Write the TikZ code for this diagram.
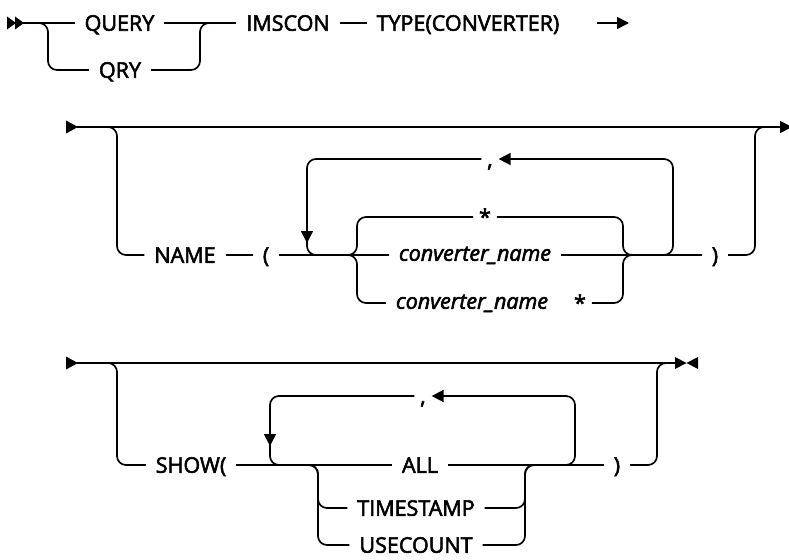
\documentclass[tikz,border=0pt]{standalone}
\usepackage{fontspec}
\setmainfont{Open Sans}[FakeBold=2.5]
\usetikzlibrary{arrows.meta}
\newcommand\lblfont{\fontsize{21.5}{25}\selectfont}
\begin{document}
\begin{tikzpicture}[x=1pt,y=-1pt,
  rail/.style={line width=1.7pt, rounded corners=9pt},
  lbl/.style={inner sep=0pt, outer xsep=10pt, outer ysep=0pt, text height=15.5pt, text depth=0pt, font=\lblfont},
  ilbl/.style={lbl, text height=11.5pt, font=\lblfont\itshape},
  pun/.style={lbl, outer xsep=6pt},
  tipR/.style={-{Triangle[length=12pt,width=12pt]}},
  tipD/.style={-{Triangle[length=12pt,width=12pt]}},
  railmark/.style={fill=black},
]
\useasboundingbox (0,0) rectangle (789,559);

% ---------- Row 1 ----------
\fill[railmark] (7,16.5) -- (16,23) -- (7,29.5) -- cycle;
\fill[railmark] (15,16.5) -- (24,23) -- (15,29.5) -- cycle;
\coordinate (s1) at (23,23);
\node[lbl] (Q1) at (119.5,23) {QUERY};
\node[lbl] (Q2) at (120,70) {QRY};
\node[lbl] (IMS) at (288,23) {IMSCON};
\node[lbl] (TYP) at (468,23) {TYPE(CONVERTER)};
\coordinate (a1) at (597,23);
\coordinate (a2) at (629,23);
\draw[rail] (s1) -- (Q1.west);
\draw[rail] (s1) -- (48,23) -- (48,70) -- (Q2.west);
\draw[rail] (Q1.east) -- (IMS.west);
\draw[rail] (Q2.east) -- (200,70) -- (200,23) -- (215,23);
\draw[rail] (IMS.east) -- (TYP.west);
\draw[line width=1.7pt, tipR] (a1) -- (a2);

% ---------- Row 2 ----------
\fill[railmark] (66,120.5) -- (78,127) -- (66,133.5) -- cycle;
\coordinate (s2) at (77,127);
\coordinate (e2) at (792,127);
\node[lbl] (NAME) at (185,255) {NAME};
\node[lbl] (LP) at (266,255) {(};
\node[pun] (c1) at (490,159) {,};
\node[pun] (st1) at (485,217) {*};
\node[ilbl] (cn1) at (475,255) {converter\_name};
\node[ilbl] (cn2) at (472,303) {converter\_name};
\node[pun] (st2) at (580,303) {*};
\node[lbl] (RP1) at (715,255) {)};
\draw[line width=1.7pt, tipR] (s2) -- (e2);
\draw[rail] (s2) -- (117,127) -- (117,255) -- (NAME.west);
\draw[rail] (NAME.east) -- (LP.west);
\draw[rail] (LP.east) -- (cn1.west);
\draw[rail, tipD] (c1.west) -- (307,159) -- (307,243);
\draw[rail] (307,232) -- (307,255) -- (330,255);
\draw[rail] (340,255) -- (357,255) -- (357,217) -- (st1.west);
\draw[rail] (340,255) -- (357,255) -- (357,303) -- (cn2.west);
\draw[rail] (st1.east) -- (623,217) -- (623,255) -- (640,255);
\draw[rail] (st2.east) -- (623,303) -- (623,255) -- (640,255);
\draw[rail] (cn1.east) -- (RP1.west);
\draw[rail, tipR] (650,255) -- (673,255) -- (673,159) -- (c1.east);
\draw[rail] (RP1.east) -- (755,255) -- (755,127) -- (770,127);

% ---------- Row 3 ----------
\fill[railmark] (66,356.5) -- (78,363) -- (66,369.5) -- cycle;
\coordinate (s3) at (77,363);
\coordinate (e3) at (676,363);
\fill[railmark] (675,357) -- (686.5,363) -- (675,369) -- cycle;
\fill[railmark] (698,357) -- (686.5,363) -- (698,369) -- cycle;
\node[lbl] (SHOW) at (191,465) {SHOW(};
\node[pun] (c2) at (423,396) {,};
\node[lbl] (ALL) at (420,465) {ALL};
\node[lbl] (TS) at (416,508) {TIMESTAMP};
\node[lbl] (US) at (416,545) {USECOUNT};
\node[lbl] (RP2) at (617,465) {)};
\draw[line width=1.7pt] (s3) -- (e3);
\draw[rail] (s3) -- (117,363) -- (117,465) -- (SHOW.west);
\draw[rail] (SHOW.east) -- (ALL.west);
\draw[rail, tipD] (c2.west) -- (270,396) -- (270,446);
\draw[rail] (270,435) -- (270,465) -- (290,465);
\draw[rail] (300,465) -- (318,465) -- (318,508) -- (TS.west);
\draw[rail] (300,465) -- (318,465) -- (318,545) -- (US.west);
\draw[rail] (TS.east) -- (525,508) -- (525,465) -- (540,465);
\draw[rail] (US.east) -- (525,545) -- (525,465) -- (540,465);
\draw[rail] (ALL.east) -- (RP2.west);
\draw[rail, tipR] (555,465) -- (575,465) -- (575,396) -- (c2.east);
\draw[rail] (RP2.east) -- (657,465) -- (657,363) -- (667,363);
\end{tikzpicture}
\end{document}
